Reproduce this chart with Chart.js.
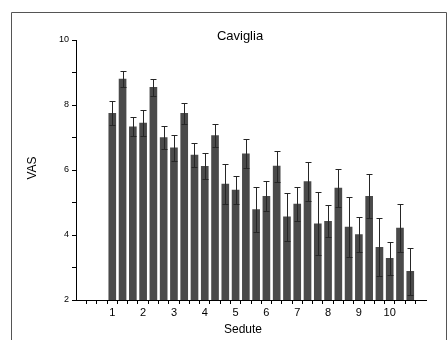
<!DOCTYPE html>
<html><head><meta charset="utf-8">
<script src="https://cdn.jsdelivr.net/npm/chart.js@4.4.0/dist/chart.umd.min.js"></script>
<style>html,body{margin:0;padding:0;background:#fff}#wrap{width:448px;height:340px;position:relative}</style>
</head><body><div id="wrap"><canvas id="c" width="448" height="340"></canvas></div>
<script>
const chartTitle = 'Caviglia';
const xTitle = 'Sedute';
const yTitle = 'VAS';
const sessions = [1, 2, 3, 4, 5, 6, 7, 8, 9, 10];
const bar1 = [7.74, 7.44, 6.68, 6.11, 5.38, 5.19, 4.95, 4.42, 4.01, 3.28];
const bar2 = [8.80, 8.54, 7.74, 7.06, 6.50, 6.12, 5.64, 5.44, 5.19, 4.21];
const bar3 = [7.33, 7.00, 6.46, 5.57, 4.78, 4.56, 4.34, 4.24, 3.62, 2.88];
const err1 = [0.37, 0.40, 0.39, 0.40, 0.43, 0.46, 0.52, 0.49, 0.54, 0.51];
const err2 = [0.25, 0.25, 0.31, 0.35, 0.45, 0.48, 0.60, 0.58, 0.68, 0.73];
const err3 = [0.29, 0.35, 0.36, 0.61, 0.69, 0.74, 0.97, 0.92, 0.89, 0.73];
const yTickValues = [2, 3, 4, 5, 6, 7, 8, 9, 10];
const yTickLabels = ['2', '', '4', '', '6', '', '8', '', '10'];
const xTickLabels = ['1', '2', '3', '4', '5', '6', '7', '8', '9', '10'];

// build points: three bars per session at session, +1/3, +2/3
const groups = [[bar1, err1], [bar2, err2], [bar3, err3]];
const points = [];
sessions.forEach((s, i) => {
  groups.forEach((g, k) => {
    points.push({ x: s + k / 3, y: g[0][i], e: g[1][i] });
  });
});
const xTickValues = [];
sessions.forEach(s => { for (let k = 0; k < 3; k++) xTickValues.push(s + k / 3); });
xTickValues.unshift(1/3, 2/3);

const FONT = 'Liberation Sans, Arial, sans-serif';

const errPlugin = {
  id: 'errbars',
  afterDatasetsDraw(chart) {
    const ctx = chart.ctx, meta = chart.getDatasetMeta(0), y = chart.scales.y;
    ctx.save();
    ctx.strokeStyle = '#262626';
    ctx.lineWidth = 1;
    meta.data.forEach((bar, i) => {
      const p = points[i];
      const x = Math.round(bar.x) + 0.5;
      const t = Math.round(y.getPixelForValue(p.y + p.e)) + 0.5;
      const b = Math.round(y.getPixelForValue(p.y - p.e)) + 0.5;
      ctx.beginPath();
      ctx.moveTo(x, t); ctx.lineTo(x, b);
      ctx.moveTo(x - 3, t); ctx.lineTo(x + 3, t);
      ctx.moveTo(x - 3, b); ctx.lineTo(x + 3, b);
      ctx.stroke();
    });
    ctx.restore();
  }
};

const textPlugin = {
  id: 'texts',
  afterDraw(chart) {
    const ctx = chart.ctx;
    ctx.save();
    ctx.strokeStyle = '#555';
    ctx.lineWidth = 1;
    ctx.beginPath();
    ctx.moveTo(11.5, 340); ctx.lineTo(11.5, 12.5); ctx.lineTo(446.5, 12.5); ctx.lineTo(446.5, 340);
    ctx.stroke();
    ctx.fillStyle = '#000';
    ctx.textAlign = 'center';
    ctx.textBaseline = 'alphabetic';
    ctx.font = '13px ' + FONT;
    ctx.fillText(chartTitle, 240, 39.5);
    ctx.font = '12px ' + FONT;
    ctx.fillText(xTitle, 243, 333);
    ctx.translate(36, 168);
    ctx.rotate(-Math.PI / 2);
    ctx.font = '12px ' + FONT;
    ctx.fillText(yTitle, 0, 0);
    ctx.restore();
  }
};

new Chart(document.getElementById('c'), {
  type: 'bar',
  data: {
    datasets: [{
      data: points,
      backgroundColor: '#4a4a4a',
      borderWidth: 0,
      barThickness: 7
    }]
  },
  options: {
    responsive: false,
    devicePixelRatio: 1,
    animation: false,
    layout: { padding: { left: 0, top: 40, right: 22, bottom: 0 } },
    plugins: { legend: { display: false }, tooltip: { enabled: false }, title: { display: false } },
    scales: {
      x: {
        type: 'linear', min: 0, max: 11,
        afterFit(s) { s.height = 40; },
        afterBuildTicks(s) { s.ticks = xTickValues.map(v => ({ value: v })); },
        ticks: {
          autoSkip: false, maxRotation: 0, minRotation: 0, padding: 2, color: '#000',
          font: { family: FONT, size: 11 },
          callback(v) {
            const r = Math.round(v);
            return Math.abs(v - r) < 1e-6 ? xTickLabels[sessions.indexOf(r)] : '';
          }
        },
        grid: { drawOnChartArea: false, drawTicks: true, tickLength: 4, color: '#000', lineWidth: 1 },
        border: { display: true, color: '#000', width: 1 }
      },
      y: {
        type: 'linear', min: 2, max: 10,
        afterFit(s) { s.width = 76; },
        afterBuildTicks(s) { s.ticks = yTickValues.map(v => ({ value: v })); },
        ticks: {
          autoSkip: false, padding: 3, color: '#000',
          font: { family: FONT, size: 9 },
          callback(v, i) { return yTickLabels[i]; }
        },
        grid: { drawOnChartArea: false, drawTicks: true, tickLength: 4, color: '#000', lineWidth: 1 },
        border: { display: true, color: '#000', width: 1 }
      }
    }
  },
  plugins: [errPlugin, textPlugin]
});
</script></body></html>
